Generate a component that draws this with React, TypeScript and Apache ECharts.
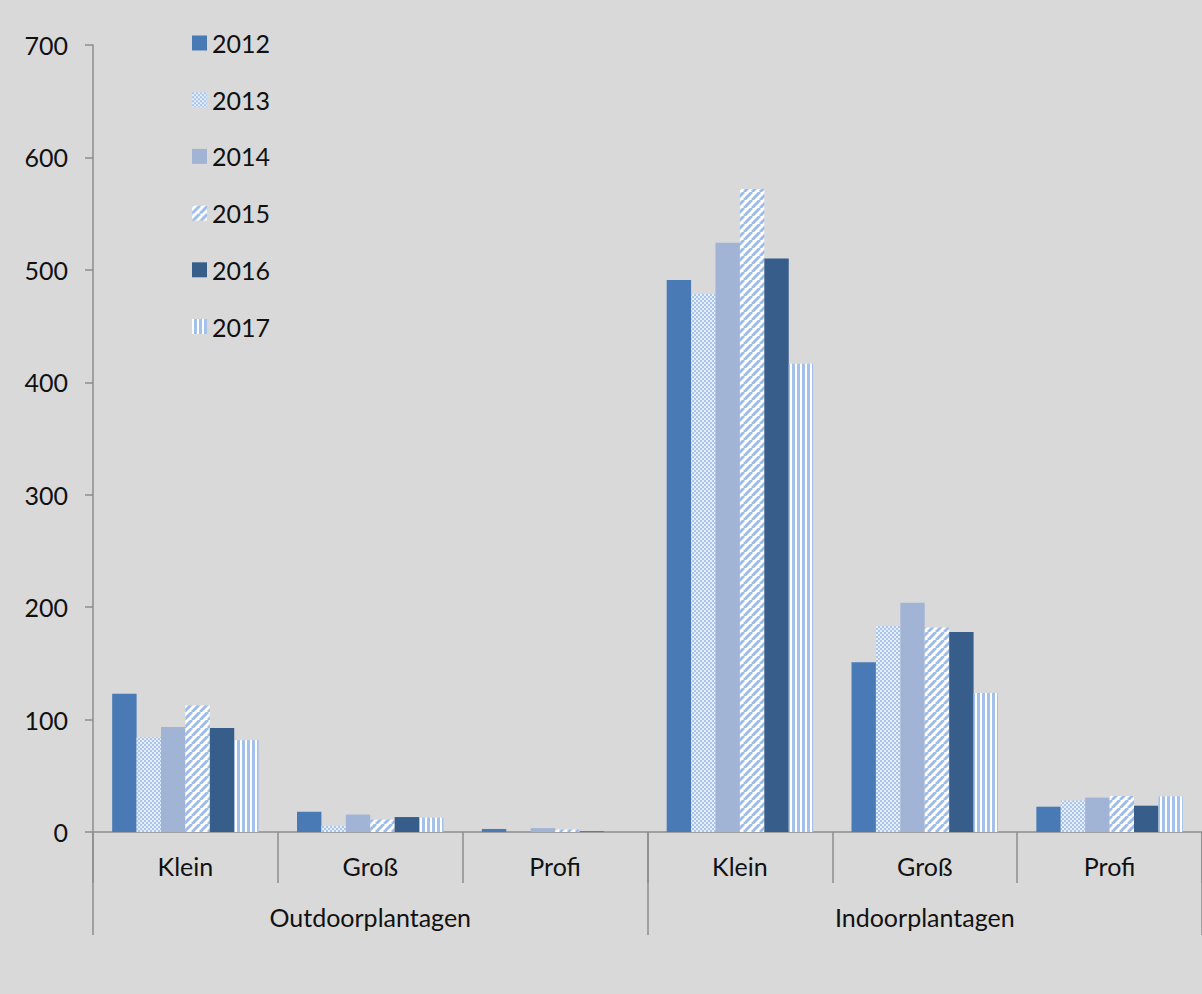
import React, { useEffect, useRef } from "react";
import * as echarts from "echarts";

// Plantation size classes (first axis level) and their groups (second level)
const sizeClasses = ["Klein", "Groß", "Profi", "Klein", "Groß", "Profi"];
const plantationTypes = ["Outdoorplantagen", "Indoorplantagen"];
const years = ["2012", "2013", "2014", "2015", "2016", "2017"];

// Counts per size class, in the order of sizeClasses
const values2012 = [123, 18, 2.7, 491, 151, 22.5];
const values2013 = [84.5, 5.3, 0, 478.5, 183.5, 28];
const values2014 = [93.4, 15.5, 3.5, 524, 204, 30.6];
const values2015 = [112.5, 11, 2.2, 572, 182, 32];
const values2016 = [92.5, 13.3, 0.5, 510, 178, 23.4];
const values2017 = [81.5, 12.7, 0, 416.5, 123.6, 31.7];

const yTicks = { min: 0, max: 700, interval: 100 };

const FONT = "Lato";
const FONT_SIZE = 25;
const TEXT = "#111111";
const AXIS = "#8c8c8c";

function makeTile(w: number, h: number, draw: (ctx: CanvasRenderingContext2D) => void) {
  const c = document.createElement("canvas");
  c.width = w;
  c.height = h;
  const ctx = c.getContext("2d") as CanvasRenderingContext2D;
  draw(ctx);
  return c;
}

function pattern(tile: HTMLCanvasElement) {
  return {
    image: tile,
    repeat: "repeat",
    imageWidth: tile.width,
    imageHeight: tile.height,
  } as any;
}

export default function App() {
  const ref = useRef<HTMLDivElement>(null);

  useEffect(() => {
    if (!ref.current) return;
    const chart = echarts.init(ref.current, undefined, { renderer: "svg" });

    // fine checker fill
    const checker = makeTile(4, 4, (ctx) => {
      ctx.fillStyle = "#e6eefa";
      ctx.fillRect(0, 0, 4, 4);
      ctx.fillStyle = "#a9c5ec";
      ctx.fillRect(0, 0, 2, 2);
      ctx.fillRect(2, 2, 2, 2);
    });
    // wide upward diagonal fill
    const diagonal = makeTile(8, 8, (ctx) => {
      ctx.fillStyle = "#ffffff";
      ctx.fillRect(0, 0, 8, 8);
      ctx.strokeStyle = "#9dbde8";
      ctx.lineWidth = 3;
      for (const x of [-8, 0, 8]) {
        ctx.beginPath();
        ctx.moveTo(x, 8);
        ctx.lineTo(x + 8, 0);
        ctx.stroke();
      }
    });
    // vertical stripe fill
    const vertical = makeTile(5, 4, (ctx) => {
      ctx.fillStyle = "#ffffff";
      ctx.fillRect(0, 0, 5, 4);
      ctx.fillStyle = "#a3c1ea";
      ctx.fillRect(2, 0, 3, 4);
    });

    const seriesValues = [values2012, values2013, values2014, values2015, values2016, values2017];
    const fills: any[] = [
      "#4a7ab5",
      pattern(checker),
      "#a2b4d5",
      pattern(diagonal),
      "#375d8b",
      pattern(vertical),
    ];

    chart.setOption({
      animation: false,
      backgroundColor: "#d9d9d9",
      textStyle: { fontFamily: FONT },
      legend: {
        orient: "vertical",
        left: 192,
        top: 30,
        padding: 0,
        itemWidth: 15,
        itemHeight: 15,
        itemGap: 30.7,
        icon: "rect",
        textStyle: { fontFamily: FONT, fontSize: FONT_SIZE, color: TEXT, lineHeight: 26 },
        data: years,
      },
      grid: { left: 93, top: 45, width: 1113, height: 787 },
      xAxis: [
        {
          type: "category",
          position: "bottom",
          data: sizeClasses,
          axisLine: { show: true, lineStyle: { color: AXIS, width: 1.5 } },
          axisTick: { show: true, interval: 0, length: 51, lineStyle: { color: AXIS, width: 1.5 } },
          axisLabel: { interval: 0, margin: 22, fontFamily: FONT, fontSize: FONT_SIZE, color: TEXT, lineHeight: 24 },
        },
        {
          type: "category",
          position: "bottom",
          data: plantationTypes,
          axisLine: { show: false },
          axisTick: { show: true, interval: 0, length: 103, lineStyle: { color: AXIS, width: 1.5 } },
          axisLabel: { interval: 0, margin: 73, fontFamily: FONT, fontSize: FONT_SIZE, color: TEXT, lineHeight: 24 },
        },
      ],
      yAxis: {
        type: "value",
        min: yTicks.min,
        max: yTicks.max,
        interval: yTicks.interval,
        splitLine: { show: false },
        axisLine: { show: true, lineStyle: { color: AXIS, width: 1.5 } },
        axisTick: { show: true, length: 8, lineStyle: { color: AXIS, width: 1.5 } },
        axisLabel: { margin: 25, fontFamily: FONT, fontSize: FONT_SIZE, color: TEXT },
      },
      series: years.map((year, i) => ({
        name: year,
        type: "bar",
        xAxisIndex: 0,
        data: seriesValues[i],
        barGap: "0%",
        barCategoryGap: "20.75%",
        itemStyle: { color: fills[i] },
      })),
    });

    return () => chart.dispose();
  }, []);

  return (
    <div
      ref={ref}
      style={{ position: "absolute", left: 0, top: 0, width: 1202, height: 994 }}
    />
  );
}
